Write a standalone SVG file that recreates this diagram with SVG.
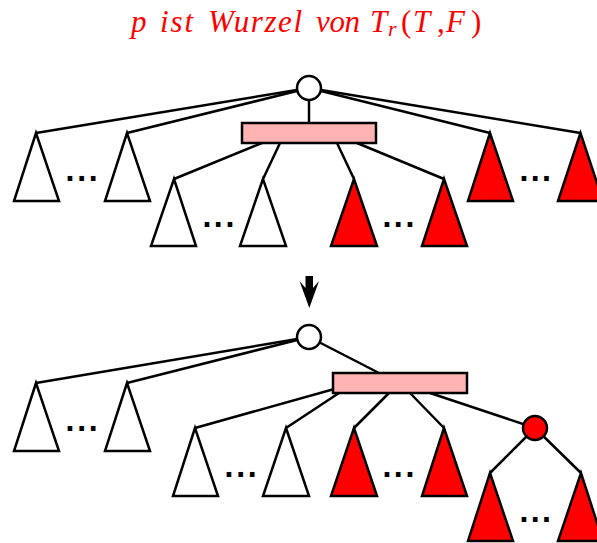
<svg xmlns="http://www.w3.org/2000/svg" width="597" height="543" viewBox="0 0 597 543">
<style>
.e{stroke:#000;stroke-width:2.5;fill:none}
.t{stroke:#000;stroke-width:2.5;fill:#fff}
.r{stroke:#000;stroke-width:2.5;fill:#f00}
.b{stroke:#000;stroke-width:2.5;fill:#ffb3b3}
.d{font-family:"DejaVu Sans",sans-serif;font-weight:bold;font-size:26px;text-anchor:middle;fill:#000}
.ti{font-family:"Liberation Serif",serif;font-style:italic;font-size:31px;fill:#f00}
.up{font-style:normal}
.sub{font-size:22px}
</style>
<rect width="597" height="543" fill="#fff"/>
<g id="title">
<text class="ti" x="131" y="31.5">p</text>
<text class="ti" x="160" y="31.5" textLength="33" lengthAdjust="spacing">ist</text>
<text class="ti" x="208" y="31.5" textLength="94" lengthAdjust="spacing">Wurzel</text>
<text class="ti" x="316" y="31.5" textLength="44" lengthAdjust="spacing">von</text>
<text class="ti" x="370" y="31.5">T</text>
<text class="ti sub" x="388" y="36">r</text>
<text class="ti up" x="401" y="31.5">(</text>
<text class="ti" x="413" y="31.5">T</text>
<text class="ti up" x="437" y="31.5">,</text>
<text class="ti" x="446" y="31.5">F</text>
<text class="ti up" x="471" y="31.5">)</text>
</g>
<g id="connectors">
<line class="e" x1="309" y1="88" x2="36" y2="133"/>
<line class="e" x1="309" y1="88" x2="127" y2="133"/>
<line class="e" x1="309" y1="88" x2="490" y2="133"/>
<line class="e" x1="309" y1="88" x2="580.5" y2="133"/>
<line class="e" x1="309" y1="88" x2="309" y2="123"/>
<line class="e" x1="262" y1="143" x2="174" y2="179"/>
<line class="e" x1="280" y1="143" x2="263" y2="179"/>
<line class="e" x1="337" y1="143" x2="354" y2="179"/>
<line class="e" x1="357" y1="143" x2="444" y2="179"/>
<line class="e" x1="309" y1="337" x2="36" y2="383"/>
<line class="e" x1="309" y1="337" x2="127" y2="383"/>
<line class="e" x1="309" y1="337" x2="379" y2="373"/>
<line class="e" x1="195" y1="428" x2="345" y2="386"/>
<line class="e" x1="339" y1="393" x2="286" y2="428"/>
<line class="e" x1="389" y1="393" x2="354" y2="428"/>
<line class="e" x1="410" y1="393" x2="444" y2="428"/>
<line class="e" x1="430" y1="393" x2="535" y2="428"/>
<line class="e" x1="535" y1="428" x2="490" y2="473"/>
<line class="e" x1="535" y1="428" x2="581" y2="473"/>
<path d="M305.5,276 L313,276 L313,288 L319,281 L309.3,308 L299.5,281 L305.5,288 Z" fill="#000"/>
</g>
<g id="top-root"><circle class="t" cx="309" cy="88" r="12"/></g>
<g id="top-box"><rect class="b" x="242" y="123" width="134" height="20"/></g>
<g id="top-l1"><polygon class="t" points="36,133 14,201 59,201"/></g>
<g id="top-l2"><polygon class="t" points="127,133 105,201 150,201"/></g>
<g id="top-m1"><polygon class="t" points="174,179 151,246 196,246"/></g>
<g id="top-m2"><polygon class="t" points="263,179 240,246 286,246"/></g>
<g id="top-m3"><polygon class="r" points="354,179 331,246 377,246"/></g>
<g id="top-m4"><polygon class="r" points="444,179 422,246 467,246"/></g>
<g id="top-r1"><polygon class="r" points="490,133 468,201 513,201"/></g>
<g id="top-r2"><polygon class="r" points="580.5,133 558,201 603,201"/></g>
<g id="dots">
<text class="d" x="70 81.7 93.3" y="188.3">···</text>
<text class="d" x="207 218.3 230" y="234.3">···</text>
<text class="d" x="387 398.3 410" y="234.3">···</text>
<text class="d" x="524 535.3 546.5" y="188.3">···</text>
<text class="d" x="70 81.7 93.3" y="438.3">···</text>
<text class="d" x="229 240.7 252.3" y="484.3">···</text>
<text class="d" x="387 398.3 410" y="484.3">···</text>
<text class="d" x="524 535.3 546.5" y="529.3">···</text>
</g>
<g id="bot-root"><circle class="t" cx="309" cy="337" r="12"/></g>
<g id="bot-box"><rect class="b" x="333" y="373" width="134" height="20"/></g>
<g id="bot-l1"><polygon class="t" points="36,383 14,451 59,451"/></g>
<g id="bot-l2"><polygon class="t" points="127,383 105,451 150,451"/></g>
<g id="bot-m1"><polygon class="t" points="195,428 173,496 218,496"/></g>
<g id="bot-m2"><polygon class="t" points="286,428 263,496 309,496"/></g>
<g id="bot-m3"><polygon class="r" points="354,428 331,496 377,496"/></g>
<g id="bot-m4"><polygon class="r" points="444,428 422,496 467,496"/></g>
<g id="bot-rnode"><circle class="r" cx="535" cy="428" r="12"/></g>
<g id="bot-r1"><polygon class="r" points="490,473 468,541 513,541"/></g>
<g id="bot-r2"><polygon class="r" points="581,473 558,541 603,541"/></g>
</svg>
